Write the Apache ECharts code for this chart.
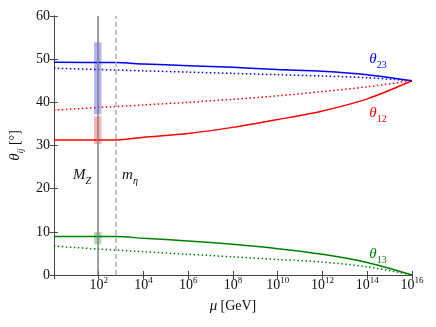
<!DOCTYPE html>
<html><head><meta charset="utf-8">
<script src="https://cdn.jsdelivr.net/npm/echarts@6/dist/echarts.min.js"></script>
<style>html,body{margin:0;padding:0;background:#fff}#c{width:436px;height:327px}</style>
</head><body><div id="c"></div>
<script>
// x values are log10(mu / GeV)
const xTicks = [0, 2, 4, 6, 8, 10, 12, 14, 16];
const yTicks = [0, 10, 20, 30, 40, 50, 60];
const logMuSolid = [0, 2.78, 4, 6, 8, 10, 12, 14, 16];
const theta23Solid = [49.3, 49.2, 48.9, 48.5, 48.1, 47.6, 47.2, 46.4, 45.0];
const theta12Solid = [31.3, 31.3, 31.9, 32.8, 34.2, 36.0, 38.0, 40.8, 45.0];
const theta13Solid = [8.9, 8.9, 8.5, 7.9, 7.1, 6.1, 4.8, 2.9, 0.0];
const logMuDotted = [0, 2, 4, 6, 8, 10, 12, 14, 16];
const theta23Dotted = [47.9, 47.6, 47.3, 47.0, 46.7, 46.4, 46.1, 45.7, 45.0];
const theta12Dotted = [38.2, 38.8, 39.4, 40.0, 40.7, 41.5, 42.5, 43.6, 45.0];
const theta13Dotted = [6.7, 6.0, 5.4, 4.8, 4.2, 3.6, 3.0, 1.9, 0.0];
const logMZ = Math.log10(91.1876);
const logMeta = 2.78;
// experimental ranges at M_Z: [low, high]
const band23 = [37.2, 53.9];
const band12 = [30.3, 36.8];
const band13 = [7.1, 10.0];

const serif = '"Liberation Serif", "DejaVu Serif", serif';
const zip = (xs, ys) => xs.map((x, i) => [x, ys[i]]);
function line(name, xs, ys, color, dotted) {
  return {
    type: 'line', name, data: zip(xs, ys), showSymbol: false, symbol: 'none',
    smooth: 0.3, z: 3,
    lineStyle: { color, width: 1.5, type: dotted ? [1.5, 2.5] : 'solid' }
  };
}
function band(lohi, fill) {
  return {
    type: 'custom', data: [[logMZ, lohi[0], lohi[1]]], z: 2,
    renderItem: (params, api) => {
      const lo = api.coord([api.value(0), api.value(1)]);
      const hi = api.coord([api.value(0), api.value(2)]);
      return { type: 'rect', shape: { x: lo[0] - 3.7, y: hi[1], width: 7.4, height: lo[1] - hi[1] }, style: { fill } };
    }
  };
}
const chart = echarts.init(document.getElementById('c'), null, { renderer: 'canvas' });
const axisCommon = {
  type: 'value', splitLine: { show: false },
  axisLine: { show: true, lineStyle: { color: '#444', width: 1 } },
  axisTick: { show: true, inside: true, length: 4, lineStyle: { color: '#444' } }
};
const rich = {
  b: { fontFamily: serif, fontSize: 14, color: '#111', lineHeight: 16, verticalAlign: 'bottom' },
  s: { fontFamily: serif, fontSize: 9, color: '#111', lineHeight: 10, verticalAlign: 'top' }
};
chart.setOption({
  animation: false,
  grid: { left: 53, right: 24, top: 16, bottom: 52 },
  xAxis: [
    Object.assign({}, axisCommon, {
      min: xTicks[0], max: xTicks[xTicks.length - 1], interval: 2, position: 'bottom',
      axisLabel: { margin: 1, formatter: v => v === 0 ? '' : '{b|10}{s|' + v + '}', rich },
      name: '{m|μ} {n|[GeV]}', nameLocation: 'middle', nameGap: 24,
      nameTextStyle: { rich: {
        m: { fontFamily: serif, fontStyle: 'italic', fontSize: 15, color: '#111' },
        n: { fontFamily: serif, fontSize: 14, color: '#111' } } }
    }),
    Object.assign({}, axisCommon, {
      min: xTicks[0], max: xTicks[xTicks.length - 1], interval: 2, position: 'top',
      axisLabel: { show: false }
    })
  ],
  yAxis: [
    Object.assign({}, axisCommon, {
      min: yTicks[0], max: yTicks[yTicks.length - 1], interval: 10, position: 'left',
      axisLabel: { margin: 4, fontFamily: serif, fontSize: 14, color: '#111' },
      name: '{t|θ}{s|ij} {n|[°]}', nameLocation: 'middle', nameGap: 26, nameRotate: 90,
      nameTextStyle: { rich: {
        t: { fontFamily: serif, fontStyle: 'italic', fontSize: 15, color: '#111', lineHeight: 17, verticalAlign: 'top' },
        s: { fontFamily: serif, fontStyle: 'italic', fontSize: 9, color: '#111', lineHeight: 9, verticalAlign: 'bottom' },
        n: { fontFamily: serif, fontSize: 14, color: '#111', lineHeight: 17, verticalAlign: 'top' } } }
    }),
    Object.assign({}, axisCommon, {
      min: yTicks[0], max: yTicks[yTicks.length - 1], interval: 10, position: 'right',
      axisLabel: { show: false }
    })
  ],
  series: [
    {
      type: 'line', data: [], z: 1,
      markLine: {
        silent: true, symbol: ['none', 'none'], label: { show: false },
        data: [
          { xAxis: logMZ, lineStyle: { color: '#808080', width: 1.5, type: 'solid' } },
          { xAxis: logMeta, lineStyle: { color: '#b0b0b0', width: 1.5, type: [5, 3] } }
        ]
      }
    },
    band(band23, 'rgba(0,0,255,0.3)'),
    band(band12, 'rgba(255,0,0,0.3)'),
    band(band13, 'rgba(0,128,0,0.3)'),
    line('θ23', logMuSolid, theta23Solid, '#0000ff', false),
    line('θ12', logMuSolid, theta12Solid, '#ff0000', false),
    line('θ13', logMuSolid, theta13Solid, '#008000', false),
    line('θ23 dotted', logMuDotted, theta23Dotted, '#0000ff', true),
    line('θ12 dotted', logMuDotted, theta12Dotted, '#ff0000', true),
    line('θ13 dotted', logMuDotted, theta13Dotted, '#008000', true)
  ]
});
function label(text, x, y, color) {
  return {
    type: 'text', x, y, z: 10,
    style: {
      text, align: 'center', verticalAlign: 'middle',
      rich: {
        t: { fontFamily: serif, fontStyle: 'italic', fontSize: 15, fill: color, lineHeight: 19, verticalAlign: 'top' },
        s: { fontFamily: serif, fontSize: 10, fill: color, lineHeight: 10, verticalAlign: 'bottom' },
        si: { fontFamily: serif, fontStyle: 'italic', fontSize: 10, fill: color, lineHeight: 10, verticalAlign: 'bottom' }
      }
    }
  };
}
chart.setOption({
  graphic: [
    label('{t|θ}{s|23}', 378, 61, '#0000ff'),
    label('{t|θ}{s|12}', 378, 115, '#ff0000'),
    label('{t|θ}{s|13}', 378, 256, '#008000'),
    label('{t|M}{si|Z}', 82, 177, '#111'),
    label('{t|m}{si|η}', 130, 177, '#111')
  ]
});
</script></body></html>
